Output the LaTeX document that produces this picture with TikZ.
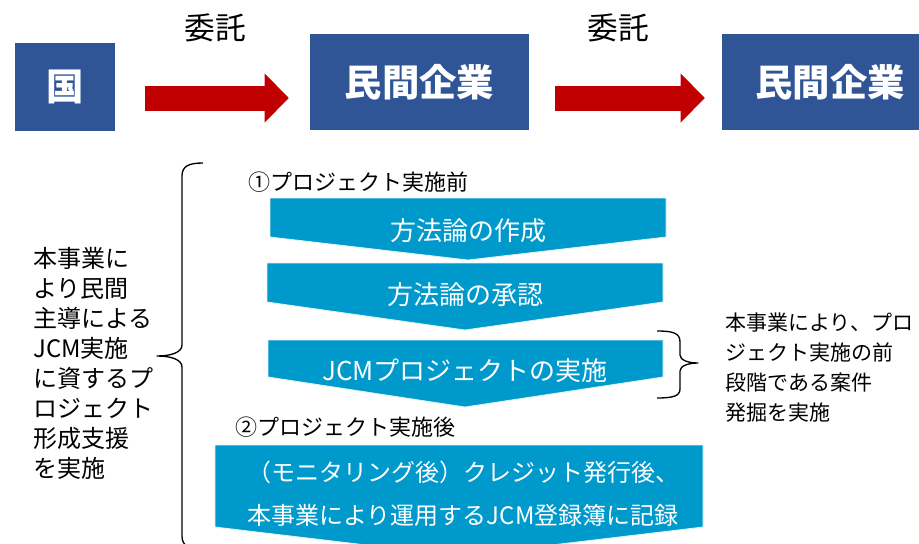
\documentclass[tikz,border=0pt]{standalone}
\usepackage{fontspec}
\setmainfont{Noto Sans CJK JP}
\usetikzlibrary{arrows.meta}

\definecolor{shuBlue}{RGB}{47,85,151}
\definecolor{itakuRed}{RGB}{192,0,0}
\definecolor{flowBlue}{RGB}{0,153,204}

\tikzset{
  org/.style={fill=shuBlue, text=white, font=\bfseries\fontsize{28}{30}\selectfont,
    minimum height=72pt, inner sep=0pt},
  itaku/.style={itakuRed, line width=18.75pt,
    -{Triangle[length=18pt,width=36.75pt,line width=0pt]}},
  itakulabel/.style={font=\fontsize{23}{26}\selectfont, inner sep=0pt},
  flow/.style={fill=flowBlue, draw=flowBlue!12!white, line width=0.6pt},
  flowtxt/.style={text=white, font=\fontsize{19.5}{22}\selectfont, inner sep=0pt},
  heading/.style={anchor=west, font=\fontsize{16.5}{20}\selectfont, inner sep=0pt},
  memo/.style={anchor=west, align=left, font=\fontsize{18}{22.5}\selectfont, inner sep=0pt},
  kakko/.style={line width=1pt, line join=round},
}

\begin{document}
\begin{tikzpicture}[x=0.75pt, y=-0.75pt]
  \useasboundingbox (0,0) rectangle (919,543);

  % actors
  \node[org, minimum width=75pt, minimum height=66pt] (kuni) at (65,87) {国};
  \node[org, minimum width=164.25pt] (minkanA) at (419.5,82) {民間企業};
  \node[org, minimum width=162pt] (minkanB) at (830,82) {民間企業};

  % commissions
  \coordinate (ya) at (0,98);
  \draw[itaku, shorten <=22.5pt, shorten >=15.75pt] (kuni.east |- ya) -- (minkanA.west |- ya);
  \draw[itaku, shorten <=19.5pt, shorten >=12.75pt] (minkanA.east |- ya) -- (minkanB.west |- ya);
  \node[itakulabel] (lab1) at (215,28) {委託};
  \node[itakulabel] (lab2) at (618,28) {委託};

  % before the project
  \node[heading] (mae) at (248,182) {①プロジェクト実施前};
  \draw[flow] (270,198) -- (666,198) -- (666,237) -- (468,260) -- (270,237) -- cycle;
  \node[flowtxt] (sakusei) at (468,231) {方法論の作成};
  \draw[flow] (267,263) -- (663,263) -- (663,302) -- (465,330) -- (267,302) -- cycle;
  \node[flowtxt] (shonin) at (465,295) {方法論の承認};
  \draw[flow] (268,340) -- (663,340) -- (663,377) -- (465,407) -- (268,377) -- cycle;
  \node[flowtxt] (jisshi) at (465,371) {JCMプロジェクトの実施};

  % after the project
  \node[heading] (ato) at (235,427) {②プロジェクト実施後};
  \draw[flow] (215,445) -- (703,445) -- (703,527) -- (459,556) -- (215,527) -- cycle;
  \node[flowtxt, align=center, font=\fontsize{18}{32}\selectfont] (toroku) at (463,493.5)
    {（モニタリング後）クレジット発行後、\\本事業により運用するJCM登録簿に記録};

  % braces and notes
  \draw[kakko] (203,163) .. controls (189,163) and (182,166) .. (182,176) -- (182,345)
    .. controls (182,352) and (172,356) .. (157,356)
    .. controls (172,356) and (182,360) .. (182,367) -- (182,536)
    .. controls (182,546) and (189,549) .. (203,549);
  \node[memo] (shien) at (33,363)
    {本事業に\\より民間\\主導による\\JCM実施\\に資するプ\\ロジェクト\\形成支援\\を実施};
  \draw[kakko] (657,331) .. controls (673,331) and (680,333) .. (680,342) -- (680,355)
    .. controls (680,360) and (688,363) .. (698,363)
    .. controls (688,363) and (680,366) .. (680,371) -- (680,389)
    .. controls (680,396) and (673,398) .. (657,398);
  \node[memo, font=\fontsize{15.75}{22.5}\selectfont] (hakkutsu) at (725,368)
    {本事業により、プロ\\ジェクト実施の前\\段階である案件\\発掘を実施};
\end{tikzpicture}
\end{document}
